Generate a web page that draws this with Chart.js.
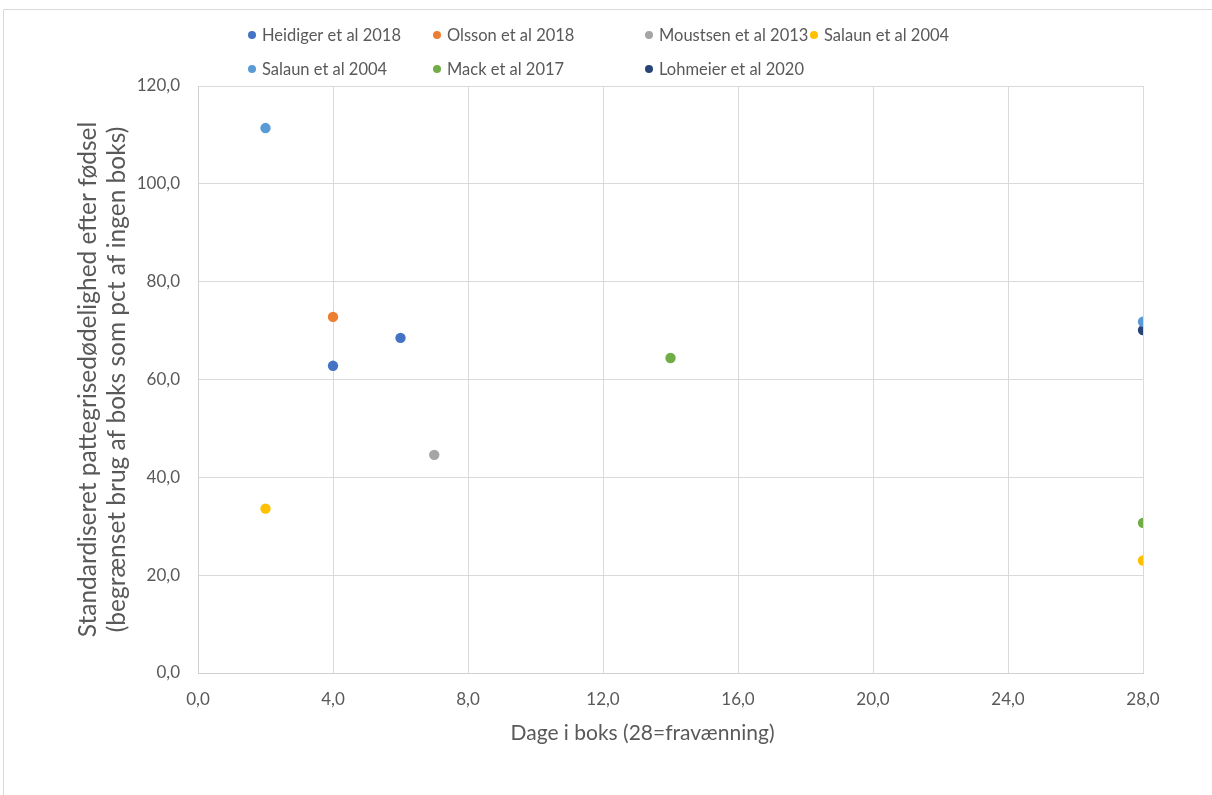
<!DOCTYPE html>
<html>
<head>
<meta charset="utf-8">
<script src="https://cdn.jsdelivr.net/npm/chart.js@4.4.1/dist/chart.umd.min.js"></script>
<style>
  html, body { margin: 0; padding: 0; background: #ffffff; }
  #wrap { width: 1212px; height: 795px; position: relative; }
</style>
</head>
<body>
<div id="wrap"><canvas id="c" width="1212" height="795"></canvas></div>
<script>
// Studies: days in farrowing crate vs. standardised piglet mortality
const seriesNames = [
  'Heidiger et al 2018',
  'Olsson et al 2018',
  'Moustsen et al 2013',
  'Salaun et al 2004',
  'Salaun et al 2004',
  'Mack et al 2017',
  'Lohmeier et al 2020'
];
const seriesColors = ['#4472C4', '#ED7D31', '#A5A5A5', '#FFC000', '#5B9BD5', '#70AD47', '#264478'];

const heidigerDays = [4, 6];
const heidigerMort = [62.8, 68.5];
const olssonDays = [4];
const olssonMort = [72.8];
const moustsenDays = [7];
const moustsenMort = [44.6];
const salaunADays = [2, 28];
const salaunAMort = [33.6, 23.0];
const salaunBDays = [2, 28];
const salaunBMort = [111.4, 71.8];
const mackDays = [14, 28];
const mackMort = [64.4, 30.7];
const lohmeierDays = [28];
const lohmeierMort = [70.1];

const seriesDays = [heidigerDays, olssonDays, moustsenDays, salaunADays, salaunBDays, mackDays, lohmeierDays];
const seriesMort = [heidigerMort, olssonMort, moustsenMort, salaunAMort, salaunBMort, mackMort, lohmeierMort];

const xTicks = [0, 4, 8, 12, 16, 20, 24, 28];
const yTicks = [0, 20, 40, 60, 80, 100, 120];

const xTitle = 'Dage i boks (28=fravænning)';
const yTitle = ['Standardiseret pattegrisedødelighed efter fødsel', '(begrænset brug af boks som pct af ingen boks)'];

const FONT = 'Lato, "Open Sans", sans-serif';
const TEXT = '#595959';
const GRID = '#D9D9D9';

const fmt = v => v.toFixed(1).replace('.', ',');

const datasets = seriesNames.map((name, i) => ({
  label: name,
  data: seriesDays[i].map((d, j) => ({ x: d, y: seriesMort[i][j] })),
  backgroundColor: seriesColors[i],
  borderColor: seriesColors[i],
  borderWidth: 0,
  pointRadius: 5.2,
  pointHoverRadius: 5.2
}));

// Outer frame of the chart object (runs off the right and bottom edges)
const framePlugin = {
  id: 'frame',
  beforeDraw(chart) {
    const ctx = chart.ctx;
    ctx.save();
    ctx.strokeStyle = '#D9D9D9';
    ctx.lineWidth = 1;
    ctx.beginPath();
    ctx.moveTo(3.5, chart.height + 5);
    ctx.lineTo(3.5, 9.5);
    ctx.lineTo(chart.width + 5, 9.5);
    ctx.stroke();
    ctx.restore();
  }
};

// Legend laid out in aligned columns, two rows
const legendPlugin = {
  id: 'gridLegend',
  afterDraw(chart, args, opts) {
    const ctx = chart.ctx;
    const ds = chart.data.datasets;
    ctx.save();
    ctx.font = opts.fontSize + 'px ' + FONT;
    ctx.textBaseline = 'middle';
    ctx.textAlign = 'left';
    ds.forEach((d, i) => {
      const col = i % opts.columns.length;
      const row = Math.floor(i / opts.columns.length);
      const x = opts.left + opts.columns[col];
      const y = opts.top + row * opts.rowHeight;
      ctx.fillStyle = d.backgroundColor;
      ctx.beginPath();
      ctx.arc(x, y, opts.dot, 0, Math.PI * 2);
      ctx.fill();
      ctx.fillStyle = TEXT;
      ctx.fillText(d.label, x + opts.gap, y + 1);
    });
    ctx.restore();
  }
};

// Horizontal axis title, set slightly left of the plot centre
const xTitlePlugin = {
  id: 'xTitle',
  afterDraw(chart, args, opts) {
    const ctx = chart.ctx;
    const area = chart.chartArea;
    ctx.save();
    ctx.font = opts.fontSize + 'px ' + FONT;
    ctx.fillStyle = TEXT;
    ctx.textAlign = 'center';
    ctx.textBaseline = 'middle';
    ctx.fillText(opts.text, (area.left + area.right) / 2 + opts.shift, area.bottom + opts.offset);
    ctx.restore();
  }
};

new Chart(document.getElementById('c'), {
  type: 'scatter',
  data: { datasets },
  plugins: [framePlugin, legendPlugin, xTitlePlugin],
  options: {
    responsive: false,
    animation: false,
    events: [],
    layout: { padding: { left: 58, top: 86, right: 69, bottom: 40 } },
    plugins: {
      legend: { display: false },
      tooltip: { enabled: false },
      gridLegend: {
        left: 252, top: 35, rowHeight: 34,
        columns: [0, 185, 397, 562],
        dot: 4, gap: 10, fontSize: 16.5
      },
      xTitle: { text: xTitle, fontSize: 21, shift: -28, offset: 60 }
    },
    scales: {
      x: {
        type: 'linear',
        min: 0, max: 28,
        afterBuildTicks: s => { s.ticks = xTicks.map(v => ({ value: v })); },
        afterFit: s => { s.height = 82; },
        grid: { color: GRID, lineWidth: 1, drawTicks: false },
        border: { color: '#D0D0D0', width: 1 },
        ticks: {
          color: TEXT, padding: 16,
          font: { family: FONT, size: 17 },
          callback: v => fmt(v)
        }
      },
      y: {
        type: 'linear',
        min: 0, max: 120,
        afterBuildTicks: s => { s.ticks = yTicks.map(v => ({ value: v })); },
        afterFit: s => { s.width = 140; },
        grid: { color: GRID, lineWidth: 1, drawTicks: false },
        border: { color: '#D0D0D0', width: 1 },
        ticks: {
          color: TEXT, padding: 18,
          font: { family: FONT, size: 17 },
          callback: v => fmt(v)
        },
        title: {
          display: true, text: yTitle, color: TEXT,
          font: { family: FONT, size: 24.5, lineHeight: 1.2 },
          padding: { top: 15, bottom: 0 }
        }
      }
    }
  }
});
</script>
</body>
</html>
